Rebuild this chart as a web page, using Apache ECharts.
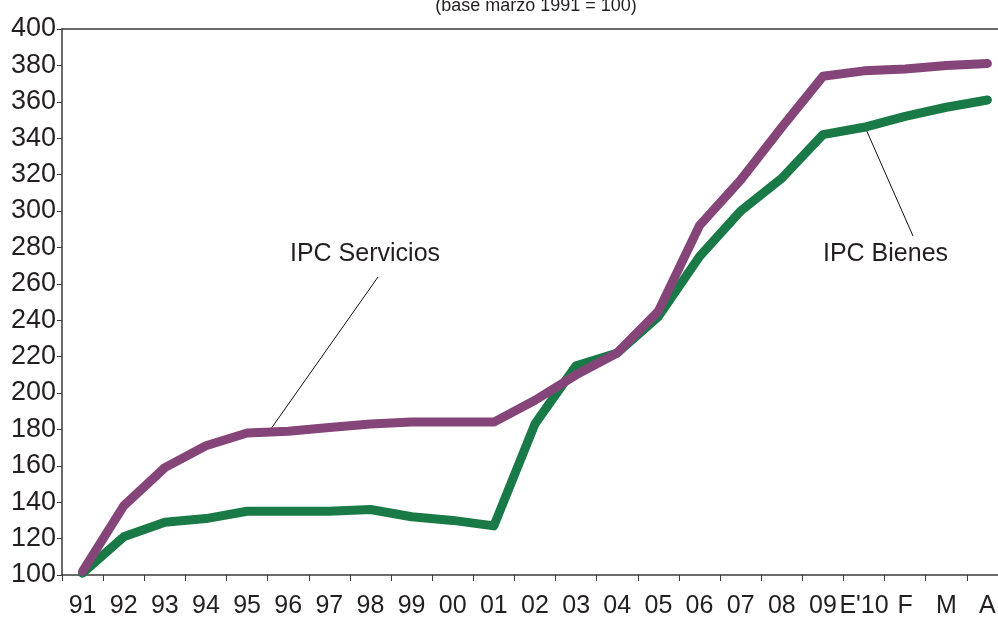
<!DOCTYPE html>
<html>
<head>
<meta charset="utf-8">
<script src="https://cdn.jsdelivr.net/npm/echarts@6/dist/echarts.min.js"></script>
<style>
  html, body { margin: 0; padding: 0; background: #fff; overflow: hidden; }
  #chart { width: 1008px; height: 620px; }
</style>
</head>
<body>
<div id="chart"></div>
<script>
// categorias del eje x
let years = ['91', '92', '93', '94', '95', '96', '97', '98', '99', '00', '01', '02',
    '03', '04', '05', '06', '07', '08', '09', "E'10", 'F', 'M', 'A'];

// IPC Servicios (base marzo 1991 = 100)
let servicios = [102, 138, 159, 171, 178, 179, 181, 183, 184, 184, 184, 196,
    210, 222, 245, 292, 317, 346, 374, 377, 378, 380, 381];

// IPC Bienes
let bienes = [101, 121, 129, 131, 135, 135, 135, 136, 132, 130, 127, 183,
    215, 222, 242, 275, 300, 318, 342, 346, 352, 357, 361];

let yMin = 100, yMax = 400, yStep = 20;

let fontMain = "'Liberation Sans', Arial, sans-serif";
let txtColor = '#231f20';
let axisColor = '#3a3a3a';

// el grafico original sigue un poco mas alla del borde derecho
let myChart = echarts.init(document.getElementById('chart'));

let option = {
    backgroundColor: '#fff',
    animation: false,
    title: {
        text: '(base marzo 1991 = 100)',
        left: 531,
        top: -8,
        textAlign: 'center',
        textStyle: {
            fontFamily: fontMain,
            fontSize: 18,
            fontWeight: 'normal',
            color: txtColor
        }
    },
    grid: {
        left: 62,
        right: 0,
        top: 29,
        bottom: 45
    },
    xAxis: [
        {
            type: 'category',
            boundaryGap: true,
            data: years,
            axisLine: { lineStyle: { color: axisColor, width: 1.5 } },
            axisTick: { show: true, length: 6, lineStyle: { color: axisColor } },
            axisLabel: {
                interval: 0,
                margin: 19,
                fontFamily: fontMain,
                fontSize: 25,
                color: txtColor
            }
        },
        {
            // linea superior del marco
            type: 'category',
            position: 'top',
            data: years,
            axisLine: { show: true, lineStyle: { color: axisColor, width: 1.5 } },
            axisTick: { show: false },
            axisLabel: { show: false }
        }
    ],
    yAxis: {
        type: 'value',
        min: yMin,
        max: yMax,
        interval: yStep,
        axisLine: { show: true, lineStyle: { color: axisColor, width: 1.5 } },
        axisTick: { show: true, length: 5, lineStyle: { color: axisColor } },
        splitLine: { show: false },
        axisLabel: {
            margin: 6,
            fontFamily: fontMain,
            fontSize: 27,
            color: txtColor
        }
    },
    series: [
        {
            name: 'IPC Bienes',
            type: 'line',
            data: bienes,
            symbol: 'none',
            lineStyle: { color: '#1a7a47', width: 9, cap: 'round', join: 'round' }
        },
        {
            name: 'IPC Servicios',
            type: 'line',
            data: servicios,
            symbol: 'none',
            lineStyle: { color: '#864579', width: 9, cap: 'round', join: 'round' }
        }
    ],
    graphic: [
        {
            type: 'text',
            left: 290,
            top: 242,
            style: {
                text: 'IPC Servicios',
                fontFamily: fontMain,
                fontSize: 25,
                fill: txtColor
            }
        },
        {
            type: 'line',
            shape: { x1: 378, y1: 277, x2: 268, y2: 433 },
            style: { stroke: '#111', lineWidth: 1 }
        },
        {
            type: 'text',
            left: 823,
            top: 242,
            style: {
                text: 'IPC Bienes',
                fontFamily: fontMain,
                fontSize: 25,
                fill: txtColor
            }
        },
        {
            type: 'line',
            shape: { x1: 865, y1: 127, x2: 913, y2: 236 },
            style: { stroke: '#111', lineWidth: 1 }
        }
    ]
};

myChart.setOption(option);
</script>
</body>
</html>
